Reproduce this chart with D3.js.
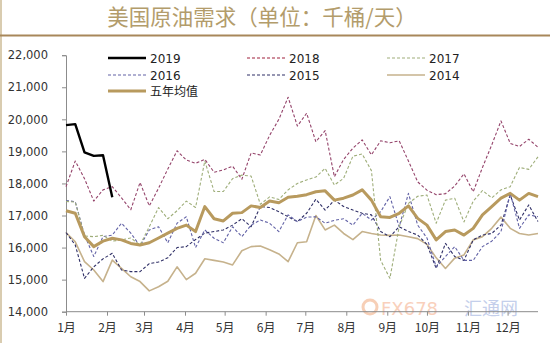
<!DOCTYPE html>
<html><head><meta charset="utf-8">
<script src="https://cdn.jsdelivr.net/npm/d3@7"></script>
<style>
html,body{margin:0;padding:0;background:#fff;}
svg{display:block;}
</style></head>
<body>
<svg id="c" width="550" height="343"></svg>
<script>
const title = "美国原油需求（单位：千桶/天）";
const monthLabels = ["1月","2月","3月","4月","5月","6月","7月","8月","9月","10月","11月","12月"];
const monthStartDay = [0,31,59,90,120,151,181,212,243,273,304,334];
const yTicks = [14000,15000,16000,17000,18000,19000,20000,21000,22000];

const s2019 = [19820,19850,18970,18860,18880,17570];
const s2018 = [17900,18700,18150,17450,17800,17900,17550,17180,18030,17300,17850,18450,19020,18730,18630,18750,18350,18420,18540,18130,18950,18890,19500,20000,20690,19790,20190,19300,19650,18210,18750,19100,19360,18890,19330,19270,19330,18700,18050,17790,17650,17680,17920,18300,17740,18500,19200,19950,19250,19150,19380,19130];
const s2017 = [17440,17420,16360,16340,16380,16200,16240,16300,16080,16650,17250,16900,17150,17450,17250,18700,17750,17750,18150,18260,18230,17350,17580,17500,17800,18000,18110,18200,18470,17950,18160,18850,18920,18400,15600,15040,16650,17380,17600,17640,16760,17480,17540,16800,17450,17780,17550,17800,17900,18500,18440,18830];
const s2016 = [17470,17430,16390,15720,16340,16390,16760,16450,16050,16550,16650,16150,16760,16960,16000,16550,16290,16150,16650,16340,16700,16860,16760,16500,17020,16810,16950,16960,16760,16850,16900,16700,17070,16860,17120,17590,16650,17690,16700,16300,15400,15720,16030,15600,15600,16030,16200,16500,17690,16600,17020,16960];
const s2015 = [16470,16080,15040,15400,15650,15820,15300,15250,15250,15500,15550,15680,16000,16030,16250,16450,16500,16550,16700,16900,16650,17280,17250,17120,16960,16810,17070,17510,17170,17480,17280,17170,17070,17020,16500,16340,16650,16500,16390,16100,15350,16130,15720,15600,16240,16390,16440,16700,17640,16860,17330,16810];
const s2014 = [16470,16180,15560,15300,14940,15610,15350,15090,14940,14650,14780,14950,15400,15000,15200,15650,15600,15550,15460,15900,16030,16050,15930,15800,15560,16150,16180,17000,16550,16700,16440,16250,16500,16440,16390,16380,16390,16340,16280,16100,15680,15350,15670,15770,16240,16340,16600,16950,16600,16440,16390,16440];
const sAvg = [17150,17070,16340,16030,16200,16290,16240,16130,16080,16150,16300,16450,16600,16700,16500,17280,16900,16830,17070,17090,17300,17250,17450,17400,17570,17600,17650,17740,17770,17480,17540,17640,17800,17480,16960,16940,17070,17300,16910,16700,16240,16500,16550,16390,16600,17020,17280,17540,17690,17480,17690,17590];

const seriesNames = ["2019","2018","2017","2016","2015","2014","五年均值"];

const svg = d3.select("#c");
const x = d3.scaleLinear().domain([0, 357]).range([66, 538]);
const y = d3.scaleLinear().domain([14000, 22000]).range([311.7, 55.2]);

// frame
svg.append("line").attr("x1",1).attr("x2",1).attr("y1",0).attr("y2",343)
  .attr("stroke","#d9ccb0").attr("stroke-width",2);
svg.append("line").attr("x1",0).attr("x2",550).attr("y1",35.5).attr("y2",35.5)
  .attr("stroke","#a8875a").attr("stroke-width",2);
svg.append("text").attr("x",262).attr("y",25).attr("text-anchor","middle")
  .attr("font-family","'Noto Sans CJK SC'").attr("font-size",21.5)
  .attr("fill","#b39c6b").text(title);

// watermark (behind data)
const wm = svg.append("g").attr("opacity",0.5);
wm.append("circle").attr("cx",370).attr("cy",307).attr("r",7).attr("fill","none").attr("stroke","#f0a070").attr("stroke-width",3);
wm.append("text").attr("x",381).attr("y",315).attr("font-family","'DejaVu Sans'").attr("font-size",18)
  .attr("fill","#f4a27a").text("FX678");
wm.append("text").attr("x",464).attr("y",315).attr("font-family","'Noto Sans CJK SC'").attr("font-size",18)
  .attr("fill","#8aa0d8").text("汇通网");

// axes
const yAxis = d3.axisLeft(y).tickValues(yTicks).tickSize(4).tickPadding(14)
  .tickFormat(d3.format(","));
const gy = svg.append("g").attr("transform","translate(66,0)").call(yAxis);
gy.select(".domain").attr("stroke","#8c8c8c");
gy.selectAll(".tick line").attr("stroke","#8c8c8c");
gy.selectAll("text").attr("font-family","'DejaVu Sans'").attr("font-size",11.5).attr("fill","#333");

const xAxis = d3.axisBottom(x).tickValues(monthStartDay).tickSize(4).tickPadding(8)
  .tickFormat((d,i)=>monthLabels[i]);
const gx = svg.append("g").attr("transform","translate(0,311.7)").call(xAxis);
gx.select(".domain").attr("stroke","#8c8c8c").attr("d","M66,0H538");
gx.selectAll(".tick line").attr("stroke","#8c8c8c");
gx.selectAll("text").attr("font-family","'Noto Sans CJK SC'").attr("font-size",12).attr("fill","#333");

const line = d3.line().x((d,i)=>x(i*7)).y(d=>y(d));

const styles = [
  {name:"2014", data:s2014, color:"#c6b28c", w:1.6, dash:null},
  {name:"2015", data:s2015, color:"#2f2f66", w:1.1, dash:"3,2"},
  {name:"2016", data:s2016, color:"#6262a6", w:1.1, dash:"3,2"},
  {name:"2017", data:s2017, color:"#9fae7a", w:1.1, dash:"3,2"},
  {name:"2018", data:s2018, color:"#94436a", w:1.1, dash:"3,2"},
  {name:"五年均值", data:sAvg, color:"#b89a5e", w:3, dash:null},
  {name:"2019", data:s2019, color:"#000000", w:2.4, dash:null}
];
styles.forEach(s=>{
  svg.append("path").datum(s.data).attr("d",line).attr("fill","none")
    .attr("stroke",s.color).attr("stroke-width",s.w)
    .attr("stroke-dasharray",s.dash).attr("stroke-linejoin","round");
});

// legend
const legendPos = {
  "2019":[108,58], "2018":[247,58], "2017":[387,58],
  "2016":[108,75], "2015":[247,75], "2014":[387,75],
  "五年均值":[108,91]
};
const styleByName = {};
styles.forEach(s=>styleByName[s.name]=s);
seriesNames.forEach(n=>{
  const s = styleByName[n]; const p = legendPos[n];
  svg.append("line").attr("x1",p[0]).attr("x2",p[0]+38).attr("y1",p[1]).attr("y2",p[1])
    .attr("stroke",n==="2018"?"#a0203c":s.color).attr("stroke-width",s.w).attr("stroke-dasharray",s.dash);
  svg.append("text").attr("x",p[0]+42).attr("y",p[1]+4.5)
    .attr("font-family", n==="五年均值" ? "'Noto Sans CJK SC'" : "'DejaVu Sans'")
    .attr("font-size",12).attr("fill","#222").text(n);
});
</script>
</body></html>
